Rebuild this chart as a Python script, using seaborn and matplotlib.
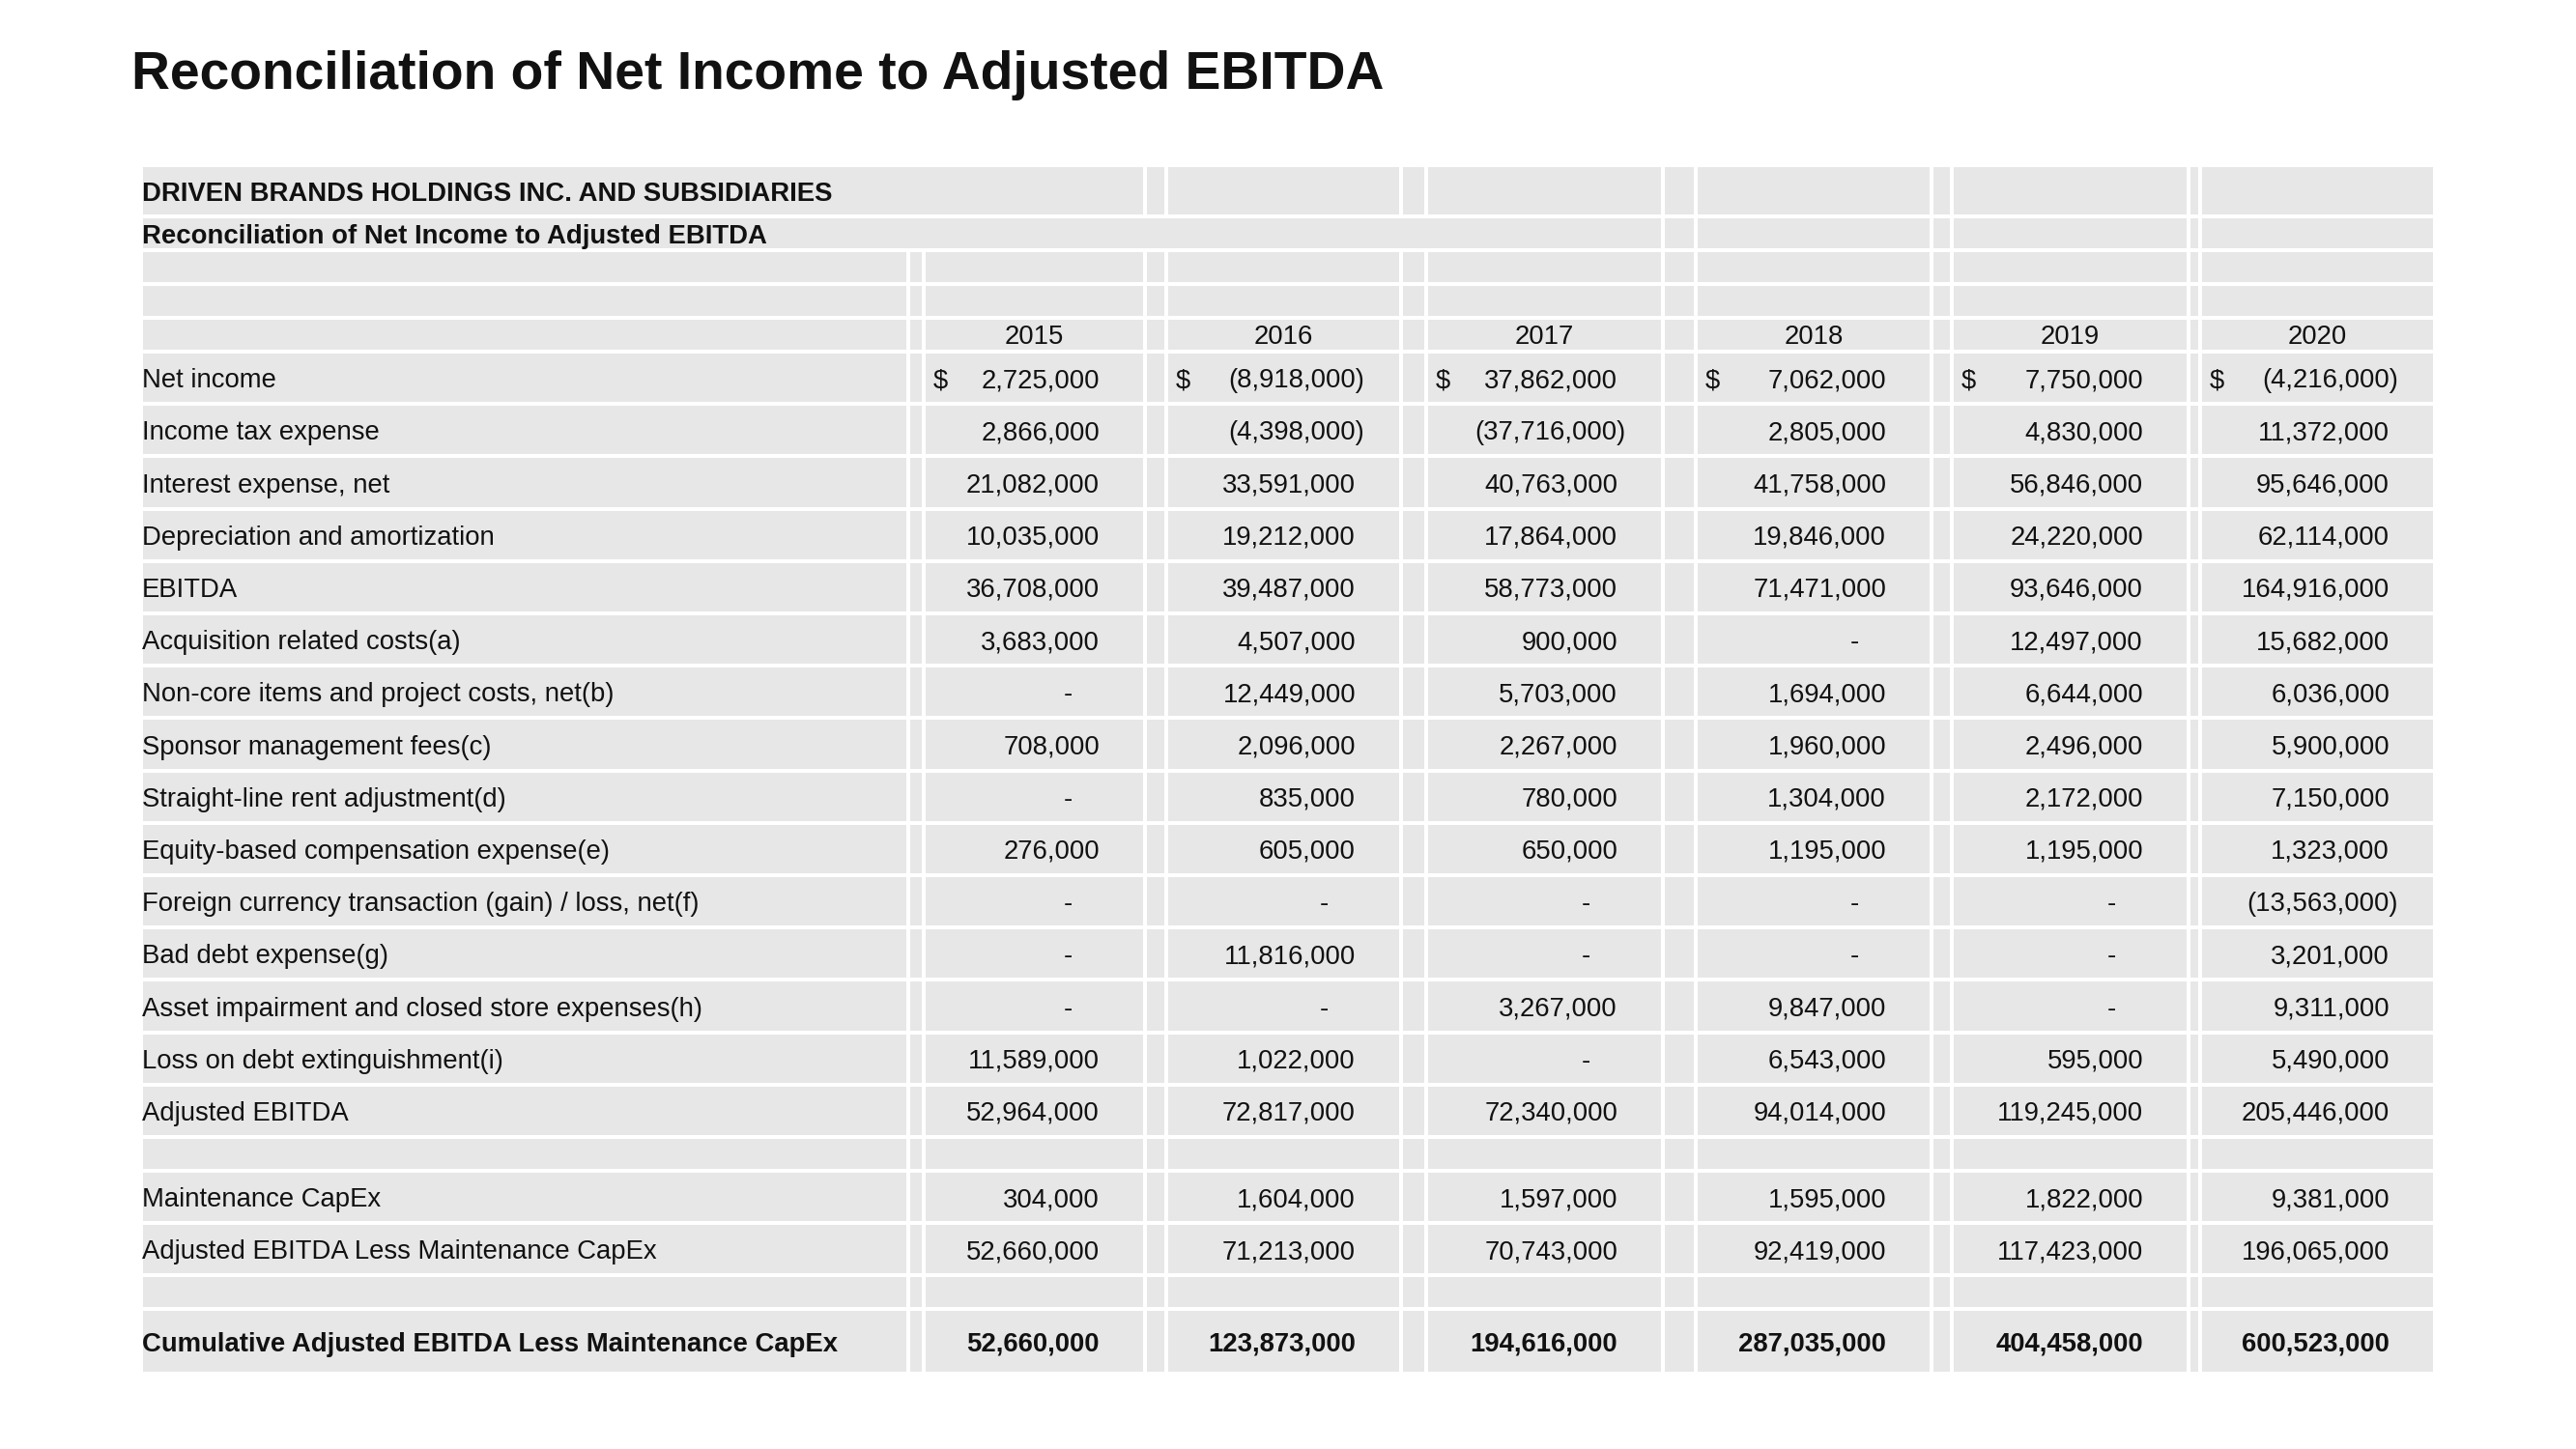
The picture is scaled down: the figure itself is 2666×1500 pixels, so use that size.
import matplotlib
matplotlib.use("Agg")
import matplotlib.pyplot as plt
import seaborn as sns
from matplotlib.patches import Rectangle

# ---- data -------------------------------------------------------------
title = "Reconciliation of Net Income to Adjusted EBITDA"
company = "DRIVEN BRANDS HOLDINGS INC. AND SUBSIDIARIES"
subtitle = "Reconciliation of Net Income to Adjusted EBITDA"
years = ["2015", "2016", "2017", "2018", "2019", "2020"]

net_income = [2725000, -8918000, 37862000, 7062000, 7750000, -4216000]
income_tax = [2866000, -4398000, -37716000, 2805000, 4830000, 11372000]
interest = [21082000, 33591000, 40763000, 41758000, 56846000, 95646000]
depreciation = [10035000, 19212000, 17864000, 19846000, 24220000, 62114000]
ebitda = [36708000, 39487000, 58773000, 71471000, 93646000, 164916000]
acquisition = [3683000, 4507000, 900000, None, 12497000, 15682000]
non_core = [None, 12449000, 5703000, 1694000, 6644000, 6036000]
sponsor_fees = [708000, 2096000, 2267000, 1960000, 2496000, 5900000]
straight_line = [None, 835000, 780000, 1304000, 2172000, 7150000]
equity_comp = [276000, 605000, 650000, 1195000, 1195000, 1323000]
fx_loss = [None, None, None, None, None, -13563000]
bad_debt = [None, 11816000, None, None, None, 3201000]
impairment = [None, None, 3267000, 9847000, None, 9311000]
debt_loss = [11589000, 1022000, None, 6543000, 595000, 5490000]
adj_ebitda = [52964000, 72817000, 72340000, 94014000, 119245000, 205446000]
maint_capex = [304000, 1604000, 1597000, 1595000, 1822000, 9381000]
adj_less_capex = [52660000, 71213000, 70743000, 92419000, 117423000, 196065000]
cumulative = [52660000, 123873000, 194616000, 287035000, 404458000, 600523000]

item_labels = [
    "Net income", "Income tax expense", "Interest expense, net",
    "Depreciation and amortization", "EBITDA", "Acquisition related costs(a)",
    "Non-core items and project costs, net(b)", "Sponsor management fees(c)",
    "Straight-line rent adjustment(d)", "Equity-based compensation expense(e)",
    "Foreign currency transaction (gain) / loss, net(f)", "Bad debt expense(g)",
    "Asset impairment and closed store expenses(h)",
    "Loss on debt extinguishment(i)", "Adjusted EBITDA",
]
item_values = [net_income, income_tax, interest, depreciation, ebitda,
               acquisition, non_core, sponsor_fees, straight_line, equity_comp,
               fx_loss, bad_debt, impairment, debt_loss, adj_ebitda]

# ---- layout (pixel coordinates of the 2666x1500 canvas) ----------------
GRAY = "#e7e7e7"
INK = "#111111"
GAP = 2
LABEL_X = 147
col_edges = [146, 940, 956, 1185, 1207, 1450, 1476, 1721, 1755, 1999,
             2020, 2265, 2277, 2520]
year_cols = [2, 4, 6, 8, 10, 12]

# row kinds and heights
rows = [("company", 53), ("subtitle", 35), ("blank", 35), ("blank", 35),
        ("years", 35)]
rows += [("item", 54.2)] * 15
rows += [("blank", 35), ("maint", 54), ("adjless", 54), ("blank", 35),
         ("cum", 67)]

sns.set_theme(style="white")
plt.rcParams["font.family"] = ["Liberation Sans", "DejaVu Sans"]
FS = 19.8

fig = plt.figure(figsize=(26.66, 15), dpi=100)
ax = fig.add_axes([0, 0, 1, 1])
ax.set_xlim(0, 2666)
ax.set_ylim(1500, 0)
ax.axis("off")


def fmt(v):
    if v is None:
        return "-"
    if v < 0:
        return f"({-v:,})"
    return f"{v:,}"


def cell(c0, c1, y0, y1):
    x0, x1 = col_edges[c0], col_edges[c1 + 1]
    ax.add_patch(Rectangle((x0 + GAP, y0 + GAP), x1 - x0 - 2 * GAP,
                           y1 - y0 - 2 * GAP, facecolor=GRAY, lw=0))


def put_values(vals, yc, bold=False, dollar=False):
    w = "bold" if bold else "normal"
    for v, c in zip(vals, year_cols):
        left, right = col_edges[c], col_edges[c + 1]
        if dollar:
            ax.text(left + 10, yc, "$", ha="left", va="center_baseline",
                    fontsize=FS, color=INK)
        if v is None:
            ax.text(right - 80, yc, "-", ha="center", va="center_baseline",
                    fontsize=FS, color=INK, fontweight=w)
        elif v < 0:
            ax.text(right - 38, yc, fmt(v), ha="right", va="center_baseline",
                    fontsize=FS, color=INK, fontweight=w)
        else:
            ax.text(right - 47, yc, fmt(v), ha="right", va="center_baseline",
                    fontsize=FS, color=INK, fontweight=w)


ax.text(136, 92, title, ha="left", va="baseline", fontsize=39.8,
        fontweight="bold", color=INK)

y = 171
item_i = 0
ncols = len(col_edges) - 1
for kind, h in rows:
    y0, y1 = y, y + h
    yc = (y0 + y1) / 2
    if kind == "company":
        cell(0, 2, y0, y1)
        for c in range(3, ncols):
            cell(c, c, y0, y1)
        ax.text(LABEL_X, yc, company, ha="left", va="center_baseline",
                fontsize=FS, fontweight="bold", color=INK)
    elif kind == "subtitle":
        cell(0, 6, y0, y1)
        for c in range(7, ncols):
            cell(c, c, y0, y1)
        ax.text(LABEL_X, yc, subtitle, ha="left", va="center_baseline",
                fontsize=FS, fontweight="bold", color=INK)
    else:
        for c in range(ncols):
            cell(c, c, y0, y1)
        if kind == "years":
            for yr, c in zip(years, year_cols):
                xc = (col_edges[c] + col_edges[c + 1]) / 2
                ax.text(xc, yc, yr, ha="center", va="center_baseline",
                        fontsize=FS, color=INK)
        elif kind == "item":
            ax.text(LABEL_X, yc, item_labels[item_i], ha="left",
                    va="center_baseline", fontsize=FS, color=INK)
            put_values(item_values[item_i], yc, dollar=(item_i == 0))
            item_i += 1
        elif kind == "maint":
            ax.text(LABEL_X, yc, "Maintenance CapEx", ha="left",
                    va="center_baseline", fontsize=FS, color=INK)
            put_values(maint_capex, yc)
        elif kind == "adjless":
            ax.text(LABEL_X, yc, "Adjusted EBITDA Less Maintenance CapEx",
                    ha="left", va="center_baseline", fontsize=FS, color=INK)
            put_values(adj_less_capex, yc)
        elif kind == "cum":
            ax.text(LABEL_X, yc, "Cumulative Adjusted EBITDA Less Maintenance CapEx",
                    ha="left", va="center_baseline", fontsize=FS,
                    fontweight="bold", color=INK)
            put_values(cumulative, yc, bold=True)
    y = y1

fig.savefig("out.png", dpi=100, facecolor="white")
